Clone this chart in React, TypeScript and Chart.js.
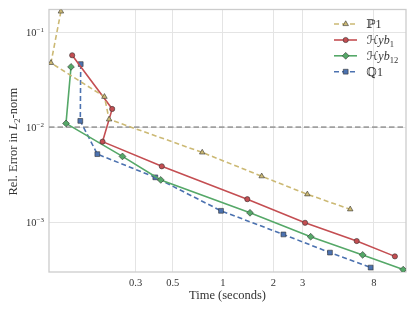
import React, { useEffect, useRef } from 'react';
import { Chart, registerables } from 'chart.js';
import { drawPoint } from 'chart.js/helpers';
Chart.register(...registerables);

const p1Time = [0.107, 0.0933, 0.195, 0.208, 0.751, 1.705, 3.2, 5.78];
const p1Error = [0.165, 0.0475, 0.0209, 0.0121, 0.00543, 0.00305, 0.00197, 0.00137];
const hyb1Time = [0.125, 0.217, 0.19, 0.43, 1.398, 3.1, 6.32, 10.7];
const hyb1Error = [0.0571, 0.01556, 0.00705, 0.00388, 0.00175, 0.000988, 0.000635, 0.000438];
const hyb12Time = [0.123, 0.1148, 0.25, 0.424, 1.451, 3.35, 6.86, 12.0];
const hyb12Error = [0.0431, 0.01096, 0.00493, 0.00279, 0.001258, 0.000705, 0.000454, 0.000318];
const q1Time = [0.1406, 0.1398, 0.1768, 0.3933, 0.973, 2.3, 4.37, 7.66];
const q1Error = [0.0461, 0.01165, 0.00521, 0.00297, 0.00132, 0.000745, 0.00048, 0.000334];

const xTicks = [0.3, 0.5, 1, 2, 3, 8];
const yTicks = [0.1, 0.01, 0.001];
const yTickExponents = ['\u22121', '\u22122', '\u22123'];
const refError = 0.01;

const xMin = 0.0908;
const xMax = 12.47;
const yMin = 3.07e-4;
const yMax = 0.173;

const SERIF = "'Liberation Serif', 'DejaVu Serif', 'DejaVu Sans', serif";
const TEXT = '#333333';

type Seg = { t: string; style?: string; size?: number; dy?: number };

const legendItems: { label: Seg[]; color: string; dash: number[]; point: string; radius: number }[] = [
  { label: [{ t: '\u21191' }], color: '#CCB974', dash: [5, 3], point: 'triangle', radius: 3.2 },
  { label: [{ t: '\u210B' }, { t: 'yb', style: 'italic' }, { t: '1', size: 8.5, dy: 3 }], color: '#C44E52', dash: [], point: 'circle', radius: 2.6 },
  { label: [{ t: '\u210B' }, { t: 'yb', style: 'italic' }, { t: '12', size: 8.5, dy: 3 }], color: '#55A868', dash: [], point: 'rectRot', radius: 3.4 },
  { label: [{ t: '\u211A1' }], color: '#4C72B0', dash: [5, 3], point: 'rect', radius: 3.4 },
];

function drawSegs(ctx: CanvasRenderingContext2D, segs: Seg[], x: number, y: number, baseSize: number, center: boolean) {
  let total = 0;
  const widths: number[] = [];
  for (const s of segs) {
    ctx.font = `${s.style || 'normal'} ${s.size || baseSize}px ${SERIF}`;
    const w = ctx.measureText(s.t).width;
    widths.push(w);
    total += w;
  }
  let cx = center ? x - total / 2 : x;
  segs.forEach((s, i) => {
    ctx.font = `${s.style || 'normal'} ${s.size || baseSize}px ${SERIF}`;
    ctx.fillText(s.t, cx, y + (s.dy || 0));
    cx += widths[i];
  });
}

const decorPlugin = {
  id: 'decor',
  beforeDatasetsDraw(chart: any) {
    const { ctx, chartArea: a, scales } = chart;
    ctx.save();
    ctx.strokeStyle = '#cccccc';
    ctx.lineWidth = 1.3;
    ctx.strokeRect(a.left, a.top, a.right - a.left, a.bottom - a.top);
    const y = scales.y.getPixelForValue(refError);
    ctx.strokeStyle = '#a0a0a0';
    ctx.lineWidth = 1.8;
    ctx.setLineDash([5.5, 3]);
    ctx.beginPath();
    ctx.moveTo(a.left, y);
    ctx.lineTo(a.right, y);
    ctx.stroke();
    ctx.restore();
  },
  afterDraw(chart: any) {
    const { ctx, chartArea: a, scales } = chart;
    ctx.save();
    ctx.fillStyle = TEXT;
    ctx.textBaseline = 'alphabetic';
    ctx.textAlign = 'left';
    yTicks.forEach((v, i) => {
      const py = scales.y.getPixelForValue(v);
      ctx.font = `normal 7px ${SERIF}`;
      const ew = ctx.measureText(yTickExponents[i]).width;
      ctx.font = `normal 10.5px ${SERIF}`;
      const bw = ctx.measureText('10').width;
      const right = a.left - 5;
      ctx.fillText('10', right - ew - bw, py + 3.6);
      ctx.font = `normal 7px ${SERIF}`;
      ctx.fillText(yTickExponents[i], right - ew, py - 0.6);
    });
    ctx.save();
    ctx.translate(13, (a.top + a.bottom) / 2 + 1);
    ctx.rotate(-Math.PI / 2);
    drawSegs(
      ctx,
      [
        { t: 'Rel. Error in ' },
        { t: 'L', style: 'italic' },
        { t: '2', size: 8.5, dy: 2.5 },
        { t: '-norm' },
      ],
      0,
      4,
      12.5,
      true
    );
    ctx.restore();
    const rows = [24, 40, 55.8, 71.7];
    legendItems.forEach((it, i) => {
      const ry = rows[i];
      ctx.save();
      ctx.strokeStyle = it.color;
      ctx.lineWidth = 1.6;
      ctx.setLineDash(it.dash);
      ctx.beginPath();
      ctx.moveTo(334, ry);
      ctx.lineTo(357, ry);
      ctx.stroke();
      ctx.setLineDash([]);
      ctx.fillStyle = it.color;
      ctx.strokeStyle = '#333333';
      ctx.lineWidth = 0.6;
      drawPoint(ctx, { pointStyle: it.point, radius: it.radius, rotation: 0, borderWidth: 0.6 } as any, 345.7, ry);
      ctx.restore();
      ctx.fillStyle = TEXT;
      drawSegs(ctx, it.label, 366.5, ry + 4, 12, false);
    });
    ctx.restore();
  },
};

function mk(times: number[], errors: number[]) {
  return times.map((t, i) => ({ x: t, y: errors[i] }));
}

export default function App() {
  const ref = useRef<HTMLCanvasElement>(null);
  useEffect(() => {
    if (!ref.current) return;
    const common = { borderWidth: 1.6, pointBorderColor: '#333333', pointBorderWidth: 0.6, tension: 0, fill: false } as any;
    const chart = new Chart(ref.current, {
      type: 'line',
      data: {
        datasets: [
          { ...common, label: 'P1', data: mk(p1Time, p1Error), borderColor: '#CCB974', backgroundColor: '#CCB974', borderDash: [5, 3], pointStyle: 'triangle', pointRadius: 3.2 },
          { ...common, label: 'Hyb1', data: mk(hyb1Time, hyb1Error), borderColor: '#C44E52', backgroundColor: '#C44E52', pointStyle: 'circle', pointRadius: 2.6 },
          { ...common, label: 'Hyb12', data: mk(hyb12Time, hyb12Error), borderColor: '#55A868', backgroundColor: '#55A868', pointStyle: 'rectRot', pointRadius: 3.4 },
          { ...common, label: 'Q1', data: mk(q1Time, q1Error), borderColor: '#4C72B0', backgroundColor: '#4C72B0', borderDash: [5, 3], pointStyle: 'rect', pointRadius: 3.4 },
        ],
      },
      options: {
        responsive: false,
        animation: false,
        parsing: false as any,
        layout: { padding: { left: 0, top: 9.5, right: 9, bottom: 0 } },
        plugins: { legend: { display: false }, tooltip: { enabled: false } },
        scales: {
          x: {
            type: 'logarithmic',
            min: xMin,
            max: xMax,
            afterBuildTicks: (s: any) => { s.ticks = xTicks.map((v) => ({ value: v })); },
            afterFit: (s: any) => { s.height = 40; },
            ticks: {
              callback: (v: any) => String(v),
              font: { family: SERIF, size: 10.5 },
              color: TEXT,
              padding: 5,
              maxRotation: 0,
              autoSkip: false,
            },
            grid: { color: '#e4e4e4', lineWidth: 1, drawTicks: false },
            border: { display: false },
            title: {
              display: true,
              text: 'Time (seconds)',
              font: { family: SERIF, size: 12.5 },
              color: TEXT,
              padding: { top: 0, bottom: 9 },
            },
          },
          y: {
            type: 'logarithmic',
            min: yMin,
            max: yMax,
            afterBuildTicks: (s: any) => { s.ticks = yTicks.map((v) => ({ value: v })); },
            afterFit: (s: any) => { s.width = 49; },
            ticks: { display: false },
            grid: { color: '#e4e4e4', lineWidth: 1, drawTicks: false },
            border: { display: false },
          },
        },
      },
      plugins: [decorPlugin],
    } as any);
    return () => chart.destroy();
  }, []);
  return (
    <div style={{ position: 'fixed', left: 0, top: 0, width: 415, height: 312, background: '#ffffff' }}>
      <canvas ref={ref} width={415} height={312} />
    </div>
  );
}
